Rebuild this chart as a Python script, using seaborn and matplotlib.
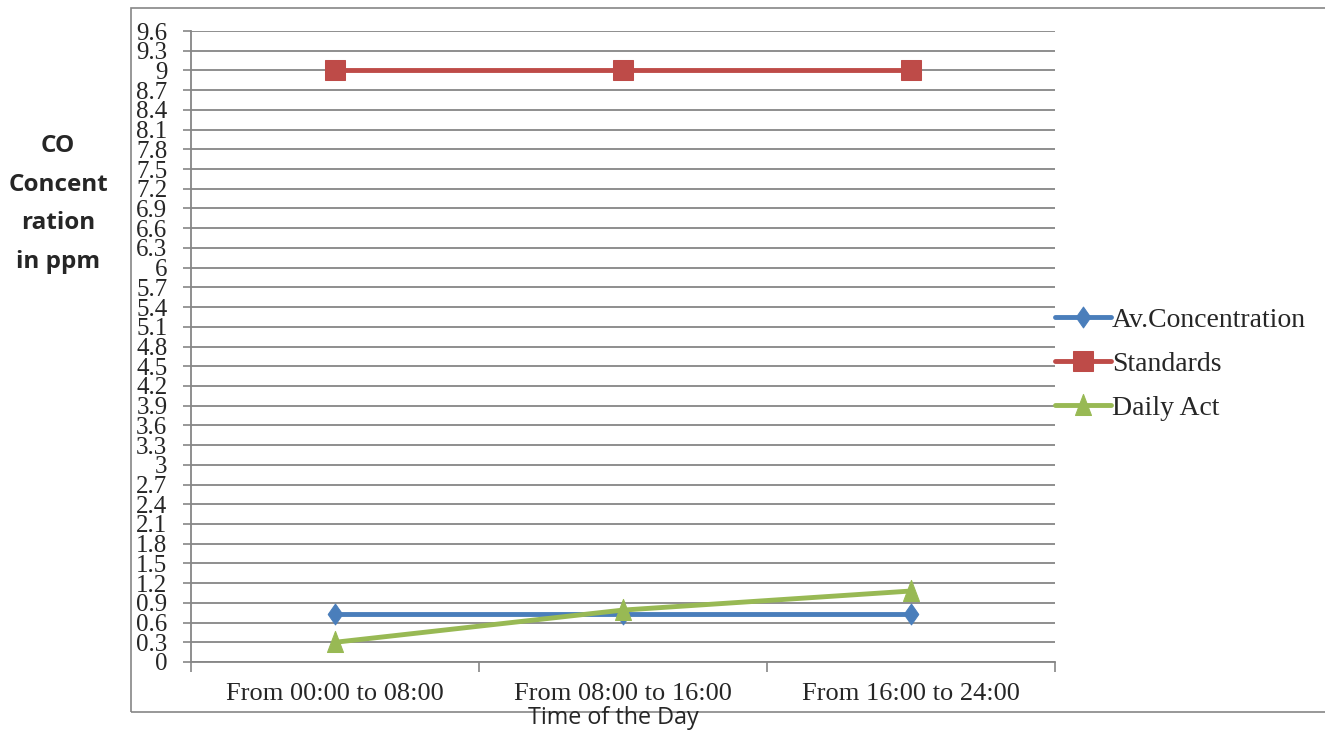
import numpy as np
import pandas as pd
import matplotlib
matplotlib.use("Agg")
import matplotlib.pyplot as plt
import seaborn as sns
from matplotlib.patches import Rectangle
from matplotlib.path import Path

periods = ["From 00:00 to 08:00", "From 08:00 to 16:00", "From 16:00 to 24:00"]
av_concentration = [0.73, 0.73, 0.73]
standards = [9.0, 9.0, 9.0]
daily_act = [0.30, 0.79, 1.08]
series_names = ["Av.Concentration", "Standards", "Daily Act"]
y_ticks = [round(0.3 * i, 1) for i in range(33)]

df = pd.DataFrame({
    "pos": list(range(3)) * 3,
    "value": av_concentration + standards + daily_act,
    "series": [s for s in series_names for _ in range(3)],
})

sns.set_theme(style="white")
plt.rcParams["font.family"] = ["Liberation Serif", "DejaVu Serif"]

fig = plt.figure(figsize=(13.25, 7.32), dpi=100)
ax = fig.add_axes([191 / 1325, 1 - 662 / 732, 864 / 1325, 631 / 732])

# outer chart frame
fig.patches.append(Rectangle((131 / 1325, 1 - 712 / 732), 1.2, 704 / 732,
                             transform=fig.transFigure, fill=False,
                             edgecolor="#868686", linewidth=1.2))

# tall diamond and tall triangle marker shapes
diamond = Path([(0, 1), (0.7, 0), (0, -1), (-0.7, 0), (0, 1)],
               [Path.MOVETO, Path.LINETO, Path.LINETO, Path.LINETO, Path.CLOSEPOLY])
triangle = Path([(0, 1), (0.72, -0.9), (-0.72, -0.9), (0, 1)],
                [Path.MOVETO, Path.LINETO, Path.LINETO, Path.CLOSEPOLY])

palette = {"Av.Concentration": "#4A7EBB", "Standards": "#BE4B48", "Daily Act": "#98B954"}
markers = {"Av.Concentration": diamond, "Standards": "s", "Daily Act": triangle}
sizes = {"Av.Concentration": 15, "Standards": 14.5, "Daily Act": 16}

for name in series_names:
    sub = df[df["series"] == name]
    sns.lineplot(data=sub, x="pos", y="value", ax=ax, color=palette[name],
                 marker=markers[name], markersize=sizes[name],
                 markeredgecolor=palette[name], linewidth=3.5, label=name,
                 zorder=3)

ax.set_xlim(-0.5, 2.5)
ax.set_ylim(0, 9.6)
ax.set_yticks(y_ticks)
ax.set_yticklabels([f"{v:g}" for v in y_ticks], fontsize=18)
ax.yaxis.grid(True, color="#868686", linewidth=1.3)
ax.xaxis.grid(False)

# category boundaries as tick marks, labels centred between them
ax.set_xticks([-0.5, 0.5, 1.5, 2.5])
ax.set_xticklabels([])
ax.set_xticks([0, 1, 2], minor=True)
ax.set_xticklabels(periods, minor=True, fontsize=19)
ax.tick_params(axis="x", which="major", length=7, width=1.2, color="#868686", direction="out")
ax.tick_params(axis="x", which="minor", length=0, pad=15)
ax.tick_params(axis="y", length=6, width=1.2, color="#868686", direction="out", pad=11)
ax.tick_params(axis="both", bottom=True, left=True)

for side in ["top", "right"]:
    ax.spines[side].set_visible(False)
for side in ["left", "bottom"]:
    ax.spines[side].set_color("#868686")
    ax.spines[side].set_linewidth(1.3)

ax.set_xlabel("")
ax.set_ylabel("")
fig.text(613 / 1325, 1 - 718 / 732, "Time of the Day", ha="center", va="center",
         fontsize=16.8, family=["Open Sans", "DejaVu Sans"])
fig.text(58 / 1325, 1 - 204 / 732, "CO\nConcent\nration\nin ppm", ha="center",
         va="center", fontsize=17.5, fontweight="bold", linespacing=1.82,
         family=["Open Sans", "DejaVu Sans"])

leg = ax.legend(loc="center left", bbox_to_anchor=(1.0, 0.472), frameon=False,
                fontsize=20, handlelength=2.0, handletextpad=0.05,
                labelspacing=0.67, borderaxespad=0, borderpad=0)

fig.savefig("out.png", dpi=100, facecolor="white")
